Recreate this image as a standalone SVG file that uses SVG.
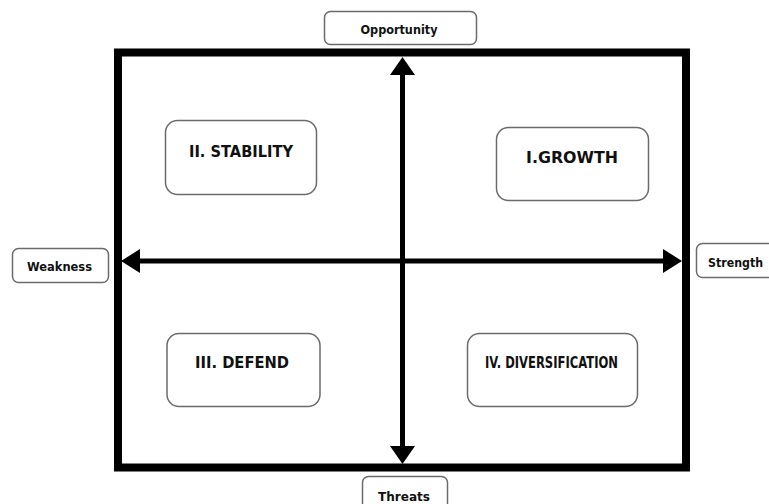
<svg xmlns="http://www.w3.org/2000/svg" width="769" height="504" viewBox="0 0 769 504">
<style>
.box{fill:#fff;stroke:#6b6b6b;stroke-width:1.5}
.q{font-family:"DejaVu Sans",Verdana,sans-serif;font-weight:bold;font-size:15px;fill:#111;text-anchor:middle;dominant-baseline:central}
.l{font-family:"DejaVu Sans",Verdana,sans-serif;font-weight:bold;font-size:12.5px;fill:#111;text-anchor:middle;dominant-baseline:central}
.ax{stroke:#000;stroke-width:5;fill:none}
</style>
<rect width="769" height="504" fill="#fff"/>
<g id="frame"><rect x="118" y="52.5" width="568" height="415" fill="none" stroke="#000" stroke-width="8"/></g>
<g id="connectors">
<line class="ax" x1="402.5" y1="72" x2="402.5" y2="448"/>
<polygon points="402.5,57 390,75 415,75" fill="#000"/>
<polygon points="402.5,464 390,446 415,446" fill="#000"/>
<line class="ax" x1="138" y1="261" x2="665" y2="261"/>
<polygon points="121,261 140,249 140,273" fill="#000"/>
<polygon points="682,261 663,249 663,273" fill="#000"/>
</g>
<g id="opportunity"><rect class="box" x="324.5" y="11.5" width="152" height="33" rx="6"/><text class="l" x="399" y="29" textLength="77" lengthAdjust="spacingAndGlyphs">Opportunity</text></g>
<g id="weakness"><rect class="box" x="12.5" y="248.5" width="96" height="34" rx="6"/><text class="l" x="59.5" y="266" textLength="65" lengthAdjust="spacingAndGlyphs">Weakness</text></g>
<g id="strength"><rect class="box" x="696.5" y="243.5" width="80" height="34" rx="6"/><text class="l" x="735.5" y="262" textLength="55" lengthAdjust="spacingAndGlyphs">Strength</text></g>
<g id="threats"><rect class="box" x="362.5" y="476.5" width="85" height="40" rx="6"/><text class="l" x="404" y="496" textLength="52" lengthAdjust="spacingAndGlyphs">Threats</text></g>
<g id="stability"><rect class="box" x="165.5" y="120.5" width="151" height="74" rx="12"/><text class="q" x="241" y="152" textLength="104" lengthAdjust="spacingAndGlyphs">II. STABILITY</text></g>
<g id="growth"><rect class="box" x="496.5" y="127.5" width="152" height="73" rx="12"/><text class="q" x="572" y="158" textLength="92" lengthAdjust="spacingAndGlyphs">I.GROWTH</text></g>
<g id="defend"><rect class="box" x="167" y="333.5" width="153" height="73" rx="12"/><text class="q" x="242" y="363" textLength="94" lengthAdjust="spacingAndGlyphs">III. DEFEND</text></g>
<g id="diversification"><rect class="box" x="467.5" y="333.5" width="170" height="73" rx="12"/><text class="q" x="551.5" y="363" font-size="12" textLength="133" lengthAdjust="spacingAndGlyphs">IV. DIVERSIFICATION</text></g>
</svg>
